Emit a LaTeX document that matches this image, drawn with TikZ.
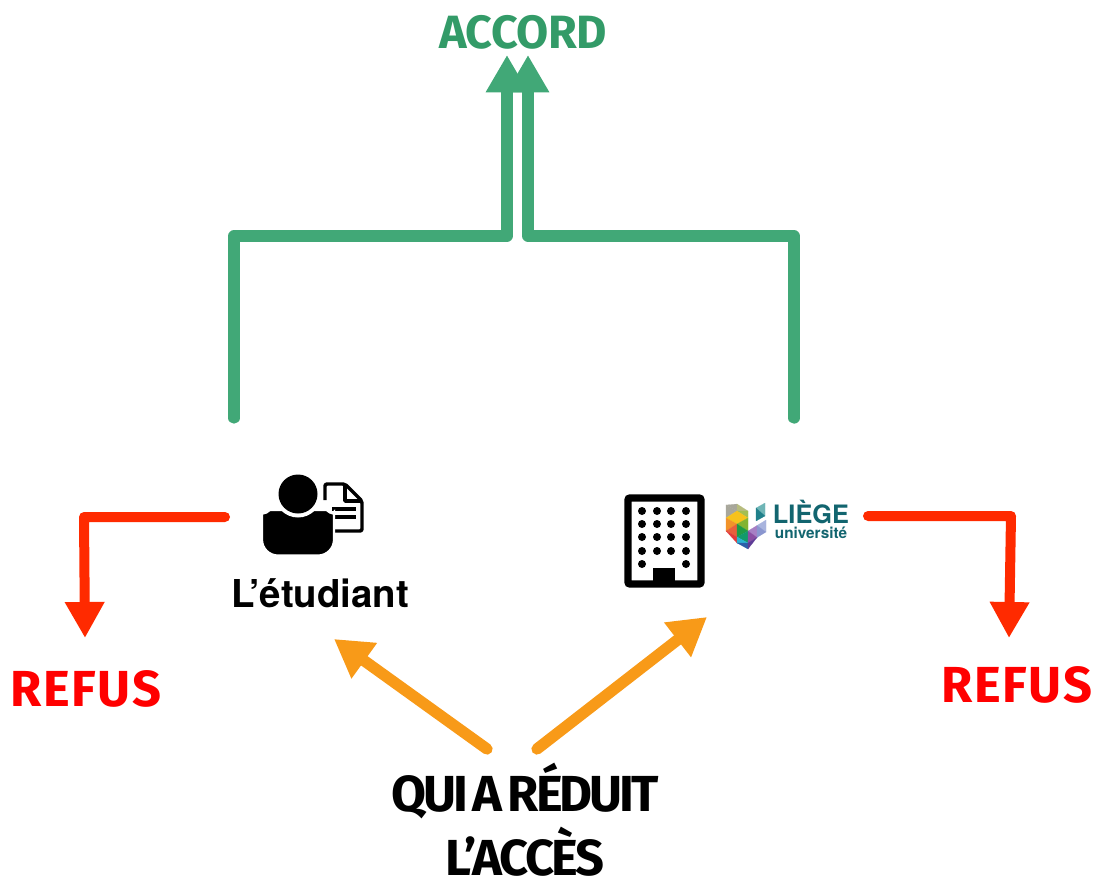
\documentclass[tikz,border=0pt]{standalone}
\usepackage{fontspec}
\setmainfont{Fira Sans}
\newfontfamily\heros{TeX Gyre Heros}
\usetikzlibrary{arrows.meta,calc}
\definecolor{gr}{HTML}{41A877}
\definecolor{grt}{HTML}{339B68}
\definecolor{rd}{HTML}{FF2A00}
\definecolor{rdt}{HTML}{FF0000}
\definecolor{og}{HTML}{F89A18}
\definecolor{tealc}{HTML}{12656F}
\newcommand{\tri}[4]{\fill[fill={#1},draw={#1},line width=0.1pt] #2 -- #3 -- #4 -- cycle;}
\tikzset{
 conn/.style={line width=8.5pt,line cap=round,line join=round},
 grn/.style={conn,gr,-{Triangle[width=30pt,length=28pt]}},
 redc/.style={conn,line width=7.5pt,rd,-{Triangle[width=28pt,length=27pt]}},
 org/.style={conn,og,-{Triangle[width=31pt,length=28pt]}},
 lab/.style={inner sep=0pt,anchor=base}
}
\begin{document}
\begin{tikzpicture}[x=0.75pt,y=-0.75pt]
\useasboundingbox (0,0) rectangle (1097,878);
% labels
\node[lab,text=grt,font=\fontsize{35}{35}\selectfont\bfseries\addfontfeatures{LetterSpace=-1}] (accord) at (523,48) {ACCORD};
\node[lab,text=rdt,font=\fontsize{38}{38}\selectfont\bfseries\addfontfeatures{LetterSpace=3}] (refusL) at (86,706) {REFUS};
\node[lab,text=rdt,font=\fontsize{38}{38}\selectfont\bfseries\addfontfeatures{LetterSpace=3}] (refusR) at (1017,702) {REFUS};
\node[lab,font=\fontsize{38}{38}\selectfont\bfseries\addfontfeatures{LetterSpace=-6}] (qui) at (525,811) {QUI\hspace{-3pt} A\hspace{-3pt} RÉDUIT};
\node[lab,font=\fontsize{38}{38}\selectfont\bfseries\addfontfeatures{LetterSpace=-5}] (acces) at (525,875) {L’ACCÈS};
\node[lab,font=\fontsize{28.8}{29}\selectfont\heros\bfseries] (etud) at (320,607) {L’étudiant};
\node[lab,text=tealc,font=\fontsize{19}{19}\selectfont\heros\bfseries] (liege) at (811,523) {LIÈGE};
\node[lab,text=tealc,font=\fontsize{11.5}{12}\selectfont\heros\bfseries] (univ) at (811,538) {université};
% connector ends
\coordinate (gla) at (234,418);
\coordinate (glb) at (507,55);
\coordinate (gra) at (794,418);
\coordinate (grb) at (528,55);
\coordinate (rla) at (225,517);
\coordinate (rlb) at (85,638);
\coordinate (rra) at (868,516);
\coordinate (rrb) at (1009,638);
\coordinate (ola) at (487,749);
\coordinate (olb) at (334,639);
\coordinate (ora) at (537,749);
\coordinate (orb) at (707,617);
% connectors
\draw[grn] (gla) -- (234,236) -- (507,236) -- (glb);
\draw[grn] (gra) -- (794,236) -- (528,236) -- (grb);
\draw[redc] (rla) -- (84,517) -- (rlb);
\draw[redc] (rra) -- (1011,516) -- (rrb);
\draw[org] (ola) -- (olb);
\draw[org] (ora) -- (orb);
% document
\draw[line width=2.6pt,line join=round,rounded corners=1.5] (325,500) -- (325,484) -- (345,484) -- (362,501) -- (362,531) -- (330,531);
\draw[line width=2.6pt,line join=round] (345,484) -- (345,501) -- (362,501);
\draw[line width=2.6pt] (332,509) -- (356,509) (332,517) -- (356,517);
% person
\fill[black,draw=white,line width=1.6pt,rounded corners=12] (262,555.5) -- (262,528) .. controls (262,516) and (272,510) .. (284,510) -- (312,510) .. controls (325,510) and (334,516) .. (334,528) -- (334,555.5) -- cycle;
\fill[white] (298,494) circle (23.5);
\fill (298,494) circle (19.5);
% building
\draw[line width=5.5pt,rounded corners=1.5] (628,498) rectangle (701,584);
\foreach \x in {642,657,671,686}{\foreach \y in {511,524,537,551}{\fill (\x,\y) circle (4);}}
\fill (642,564) circle (4) (686,564) circle (4);
\fill (653,568) rectangle (675,584);
% logo
\definecolor{lgA}{HTML}{A8A79B}\definecolor{lgC}{HTML}{F6C21C}
\definecolor{lgD}{HTML}{F2932A}\definecolor{lgE}{HTML}{E8603C}\definecolor{lgF}{HTML}{B7BC7E}
\definecolor{lgG}{HTML}{A3BE52}\definecolor{lgH}{HTML}{82B432}\definecolor{lgI}{HTML}{1F9B45}
\definecolor{lgJ}{HTML}{119A6B}\definecolor{lgK}{HTML}{2AB3D2}\definecolor{lgL}{HTML}{E23A3C}
\definecolor{lgN}{HTML}{2C5FA8}\definecolor{lgO}{HTML}{A77FC4}
\definecolor{lgP}{HTML}{8B4FA3}\definecolor{lgQ}{HTML}{5E3B96}\definecolor{lgR}{HTML}{A9B4DE}
\definecolor{lgS}{HTML}{8A96CF}\definecolor{lgT}{HTML}{6FB5B6}\definecolor{lgU}{HTML}{20808A}
\tri{lgA}{(726,505)}{(737,504)}{(737,511)}
\tri{lgA}{(726,505)}{(737,511)}{(726,518)}
\tri{lgC}{(726,518)}{(737,511)}{(737,524)}
\tri{lgD}{(726,518)}{(737,524)}{(726,531)}
\tri{lgE}{(726,531)}{(737,524)}{(737,537)}
\tri{lgF}{(737,504)}{(748,511)}{(737,511)}
\tri{lgG}{(737,511)}{(748,511)}{(748,518)}
\tri{lgC}{(737,511)}{(748,518)}{(737,524)}
\tri{lgH}{(737,524)}{(748,518)}{(748,531)}
\tri{lgI}{(737,524)}{(748,531)}{(737,537)}
\tri{lgJ}{(737,537)}{(748,531)}{(748,543)}
\tri{lgL}{(726,531)}{(737,537)}{(737,543)}
\tri{lgK}{(737,537)}{(748,543)}{(737,543)}
\tri{lgN}{(737,543)}{(748,543)}{(748,549)}
\tri{lgO}{(748,531)}{(757,525.5)}{(757,537.5)}
\tri{lgP}{(748,531)}{(757,537.5)}{(748,543)}
\tri{lgQ}{(748,543)}{(757,537.5)}{(748,549)}
\tri{lgR}{(757,525.5)}{(766,520)}{(766,532)}
\tri{lgS}{(757,525.5)}{(766,532)}{(757,537.5)}
\tri{lgT}{(756,508)}{(765,503)}{(765,516)}
\tri{lgU}{(756,508)}{(765,516)}{(756,521)}
\end{tikzpicture}
\end{document}
